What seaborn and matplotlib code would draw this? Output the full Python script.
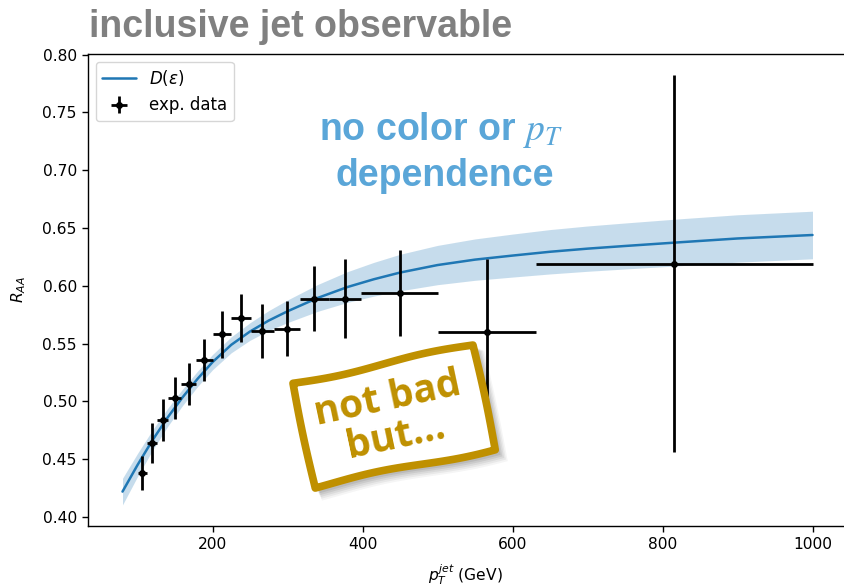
import numpy as np
import pandas as pd
import matplotlib
matplotlib.use("Agg")
import matplotlib.pyplot as plt
from matplotlib.patches import Polygon
from matplotlib.lines import Line2D
import seaborn as sns

# Model curve D(eps): pT grid (GeV), central R_AA and half-width of the band
model_pt = [80, 100, 120, 140, 160, 180, 200, 225, 250, 275, 300,
            340, 380, 415, 450, 500, 550, 600, 650, 700, 750, 825, 900, 1000]
model_raa = [0.4220, 0.4450, 0.4665, 0.4860, 0.5035, 0.5195, 0.5340, 0.5490,
             0.5605, 0.5700, 0.5780, 0.5895, 0.5990, 0.6057, 0.6115, 0.6180,
             0.6227, 0.6262, 0.6295, 0.6322, 0.6345, 0.6378, 0.6410, 0.6440]
model_band = [0.0115, 0.0100, 0.0088, 0.0078, 0.0071, 0.0067, 0.0066, 0.0069,
              0.0076, 0.0086, 0.0098, 0.0116, 0.0133, 0.0146, 0.0158, 0.0170,
              0.0179, 0.0186, 0.0192, 0.0196, 0.0199, 0.0203, 0.0205, 0.0206]

# Measured inclusive jet R_AA: bin centres, half bin widths, values, errors
data_pt = [106, 119, 133.5, 149.5, 168, 189, 212, 237.5, 266.5, 299,
           335.5, 376.5, 449.5, 566, 815.5]
data_pt_err = [6, 7, 7.5, 8.5, 10, 11, 12, 13.5, 15.5, 17,
               19.5, 21.5, 51.5, 65, 184.5]
data_raa = [0.438, 0.464, 0.484, 0.503, 0.515, 0.536, 0.558, 0.572, 0.561,
            0.563, 0.589, 0.589, 0.594, 0.560, 0.619]
data_raa_err = [0.015, 0.017, 0.018, 0.018, 0.018, 0.018, 0.020, 0.021, 0.023,
                0.024, 0.028, 0.034, 0.037, 0.063, 0.163]

x_ticks = [200, 400, 600, 800, 1000]
y_ticks = [0.40, 0.45, 0.50, 0.55, 0.60, 0.65, 0.70, 0.75, 0.80]

BLUE = "#1f77b4"
NOTE_BLUE = "#5aa6d8"
GOLD = "#bf9000"
TITLE_GRAY = "#808080"

sns.set_theme(style="ticks", rc={
    "axes.edgecolor": "black",
    "axes.linewidth": 1.0,
    "xtick.color": "black",
    "ytick.color": "black",
    "text.color": "black",
    "axes.labelcolor": "black",
    "xtick.major.size": 4.5,
    "ytick.major.size": 4.5,
})
plt.rcParams["font.family"] = ["DejaVu Sans"]

W, H = 844, 587
fig = plt.figure(figsize=(W / 100, H / 100), dpi=100)


def fx(px):
    return px / W


def fy(py):
    return 1 - py / H


ax = fig.add_axes([fx(88), fy(525.7), (847 - 88) / W, (525.7 - 54) / H])

model = pd.DataFrame({"pt": model_pt, "raa": model_raa, "band": model_band})
ax.fill_between(model["pt"], model["raa"] - model["band"],
                model["raa"] + model["band"], color=BLUE, alpha=0.25, lw=0)
sns.lineplot(data=model, x="pt", y="raa", ax=ax, color=BLUE, lw=1.8,
             legend=False)

ax.errorbar(data_pt, data_raa, xerr=data_pt_err, yerr=data_raa_err,
            fmt="o", ms=4, color="black", elinewidth=2.0, capsize=0)

ax.set_xlim(34, 1046)
ax.set_ylim(0.3925, 0.8006)
ax.set_xticks(x_ticks)
ax.set_xticklabels([str(v) for v in x_ticks])
ax.set_yticks(y_ticks)
ax.set_yticklabels([f"{v:.2f}" for v in y_ticks])
ax.tick_params(labelsize=11.2, width=1.0)
ax.set_xlabel(r"$p_T^{jet}$ (GeV)", fontsize=11.2)
ax.set_ylabel(r"$R_{AA}$", fontsize=11.2)
ax.xaxis.set_label_coords(0.497, -(562 - 525.7) / 471.7)
ax.yaxis.set_label_coords((28 - 88) / 759, 0.5)

handles = [
    Line2D([], [], color=BLUE, lw=1.8),
    ax.containers[0],
]
ax.legend(handles, [r"$D(\varepsilon)$", "exp. data"], loc="upper left",
          fontsize=12, frameon=True, fancybox=True, framealpha=0.8,
          edgecolor="#cccccc", borderaxespad=0.45)

# Slide title
fig.text(fx(89), fy(37), "inclusive jet observable", fontsize=27,
         fontweight="bold", color=TITLE_GRAY, family="Liberation Sans",
         ha="left", va="baseline")

# Blue remark inside the axes
fig.text(fx(441), fy(140), r"no color or $p_T$", fontsize=27,
         fontweight="bold", color=NOTE_BLUE, family="Liberation Sans",
         ha="center", va="baseline", math_fontfamily="stix")
fig.text(fx(445), fy(186), "dependence", fontsize=27, fontweight="bold",
         color=NOTE_BLUE, family="Liberation Sans", ha="center",
         va="baseline")


# Hand-drawn looking tilted note box
def wavy_box(cx, cy, w, h, angle_deg, n=40):
    t = np.linspace(0, 1, n)
    top = np.column_stack([-w / 2 + w * t, -h / 2 + 2.0 * np.sin(2 * np.pi * t)])
    right = np.column_stack([w / 2 + 1.0 * np.sin(np.pi * t), -h / 2 + h * t])
    bottom = np.column_stack([w / 2 - w * t, h / 2 + 2.0 * np.sin(2 * np.pi * t + 0.6)])
    left = np.column_stack([-w / 2 - 1.0 * np.sin(np.pi * t), h / 2 - h * t])
    pts = np.vstack([top, right, bottom, left])
    a = np.deg2rad(-angle_deg)
    rot = np.array([[np.cos(a), -np.sin(a)], [np.sin(a), np.cos(a)]])
    pts = pts @ rot.T
    pts[:, 0] += cx
    pts[:, 1] += cy
    return np.column_stack([fx(pts[:, 0]), fy(pts[:, 1])])


box_cx, box_cy, box_w, box_h, box_ang = 394, 416, 184, 106, 12
for k, alpha in enumerate([0.04, 0.05, 0.06, 0.07, 0.08]):
    off = 9 - k * 1.2
    shadow = wavy_box(box_cx + off, box_cy + off, box_w + 6 - k, box_h + 6 - k, box_ang)
    fig.patches.append(Polygon(shadow, closed=True, transform=fig.transFigure,
                               facecolor="black", edgecolor="none",
                               alpha=alpha, zorder=5))
fig.patches.append(Polygon(wavy_box(box_cx, box_cy, box_w, box_h, box_ang),
                           closed=True, transform=fig.transFigure,
                           facecolor="white", edgecolor=GOLD, lw=5.5,
                           joinstyle="round", zorder=6))
fig.text(fx(392), fy(418), "not bad\nbut...", fontsize=28, fontweight="bold",
         color=GOLD, family="Open Sans", ha="center", va="center",
         rotation=box_ang, rotation_mode="anchor", linespacing=1.0,
         zorder=7)

fig.savefig("out.png", dpi=100)
